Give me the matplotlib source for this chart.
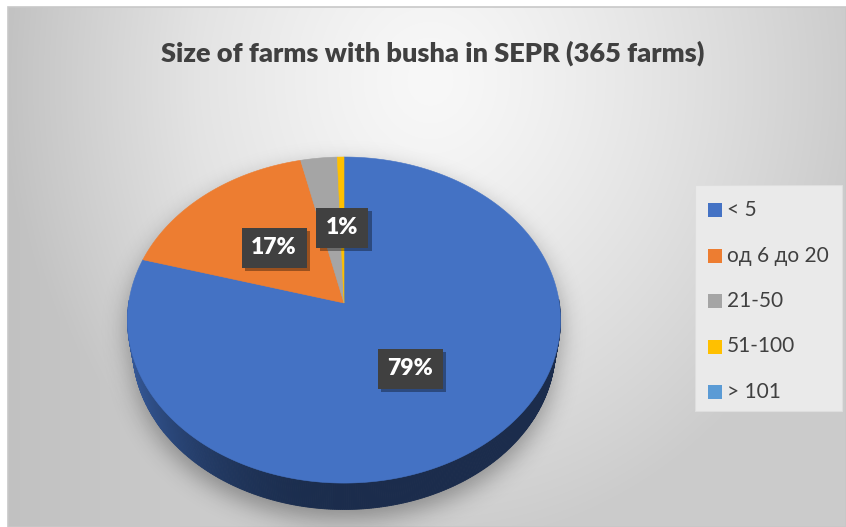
import numpy as np
import matplotlib.pyplot as plt
import matplotlib.patheffects as pe
from matplotlib.colors import to_rgb
from matplotlib.patches import Polygon, Rectangle
from matplotlib.path import Path

plt.rcParams['font.family'] = ['Lato', 'Open Sans', 'DejaVu Sans']

# farms per size group (365 in total)
categories = ['< 5', 'од 6 до 20', '21-50', '51-100', '> 101']
farms = [290, 62, 11, 2, 0]
colors = ['#4472C4', '#ED7D31', '#A5A5A5', '#FFC000', '#5B9BD5']
show_label = [True, True, False, True, False]
title = 'Size of farms with busha in SEPR (365 farms)'

W, H = 846, 527
fig = plt.figure(figsize=(W / 100, H / 100), dpi=100)
ax = fig.add_axes([0, 0, 1, 1])
ax.set_xlim(0, W)
ax.set_ylim(H, 0)
ax.axis('off')

# chart area background: light radial gradient
yy, xx = np.mgrid[7:H, 8:W]
rn = np.sqrt(((xx - 430) / 430.0) ** 2 + ((yy - 80) / 470.0) ** 2)
val = 248 - 45 * np.clip(rn, 0, 1) ** 1.3 - 10 * np.clip((200 - xx) / 200.0, 0, 1)
bg = np.dstack([val, val, val]) / 255.0
ax.imshow(bg, extent=[8, W, H, 7], origin='upper', zorder=0, interpolation='bilinear')
ax.add_patch(Rectangle((8, 7), W - 8, H - 7, fill=False, ec='#c8c8c8', lw=1.2, zorder=1))

# tilted disc with a bit of perspective
elev = np.radians(48.5)
s, c = np.sin(elev), np.cos(elev)
D = 6.34
S = 215.3
CX, CY = 344, 303
depth = 0.2


def project(X, Z, Y=0.0):
    k = D / (D - (Y * s + Z * c))
    return CX + S * X * k, CY - S * (Y * c - Z * s) * k


def rim(theta, Y=0.0, r=1.0):
    t = np.radians(theta)
    return project(r * np.cos(t), -r * np.sin(t), Y)


fr = np.array(farms, dtype=float) / sum(farms)
cum = np.concatenate([[0], np.cumsum(fr)])
starts = 90 - 360 * cum[:-1]
ends = 90 - 360 * cum[1:]

# soft shadow under the pie
full = np.linspace(0, 360, 361)
tx, ty = rim(full)
bx, by = rim(full, Y=-depth)
gy, gx = np.mgrid[0:H, 0:W]
pts = np.column_stack([gx.ravel() + 0.5, gy.ravel() + 0.5])
off = 10
mask = (Path(np.column_stack([tx, ty + off])).contains_points(pts) |
        Path(np.column_stack([bx, by + off])).contains_points(pts)).reshape(H, W).astype(float)
sig = 12
kx = np.arange(-3 * sig, 3 * sig + 1)
kern = np.exp(-kx ** 2 / (2 * sig ** 2))
kern /= kern.sum()
blur = np.apply_along_axis(lambda v: np.convolve(v, kern, mode='same'), 1, mask)
blur = np.apply_along_axis(lambda v: np.convolve(v, kern, mode='same'), 0, blur)
shadow = np.zeros((H, W, 4))
shadow[..., 3] = 0.34 * blur
ax.imshow(shadow, extent=[0, W, H, 0], origin='upper', zorder=2)

# side wall strips, far ones first
strips = []
for i in range(len(farms)):
    if fr[i] == 0:
        continue
    th = np.linspace(starts[i], ends[i], max(3, int(abs(starts[i] - ends[i]) * 2)))
    for a, b in zip(th[:-1], th[1:]):
        m = np.radians((a + b) / 2)
        if np.sin(m) > 0.02:
            continue
        xm = np.cos(m)
        f = 0.39 + 0.42 * max(0.0, -xm) ** 2.2
        col = np.clip(np.array(to_rgb(colors[i])) * f, 0, 1)
        quad = [rim(a), rim(b), rim(b, Y=-depth), rim(a, Y=-depth)]
        strips.append((-np.sin(m), quad, col))
strips.sort(key=lambda t: t[0])
for _, quad, col in strips:
    ax.add_patch(Polygon(quad, closed=True, fc=col, ec=col, lw=0.6, zorder=3))

# top surface
for i in range(len(farms)):
    if fr[i] == 0:
        continue
    th = np.linspace(starts[i], ends[i], max(3, int(abs(starts[i] - ends[i]) * 2)))
    px, py = rim(th)
    verts = [project(0, 0)] + list(zip(px, py))
    ax.add_patch(Polygon(verts, closed=True, fc=colors[i], ec=colors[i], lw=0.4, zorder=4))

# data labels
for i in range(len(farms)):
    if not show_label[i]:
        continue
    mid = (starts[i] + ends[i]) / 2
    lx, ly = rim(mid, r=0.49)
    t = ax.text(lx, ly, f'{fr[i] * 100:.0f}%', ha='center', va='center', color='white',
                fontsize=16.5, fontweight='heavy', zorder=6,
                bbox=dict(boxstyle='square,pad=0.42', fc='#404040', ec='none'))
    t.get_bbox_patch().set_path_effects([
        pe.SimplePatchShadow(offset=(2.5, -2.5), shadow_rgbFace='black', alpha=0.35),
        pe.Normal()])

# title
ax.text(433, 62, title, ha='center', va='baseline', fontsize=19.5, fontweight='heavy',
        color='#404040', zorder=6)

# legend
ax.add_patch(Rectangle((695, 185), 147, 226, fc='#eaeaea', ec='#dedede', lw=0.8, zorder=5))
for j, (lab, col) in enumerate(zip(categories, colors)):
    ycen = 210 + j * 45.5
    ax.add_patch(Rectangle((708, ycen - 7), 14, 14, fc=col, ec='none', zorder=6))
    ax.text(727, ycen, lab, ha='left', va='center', fontsize=15, color='#404040', zorder=6)

fig.savefig('out.png', dpi=100)
